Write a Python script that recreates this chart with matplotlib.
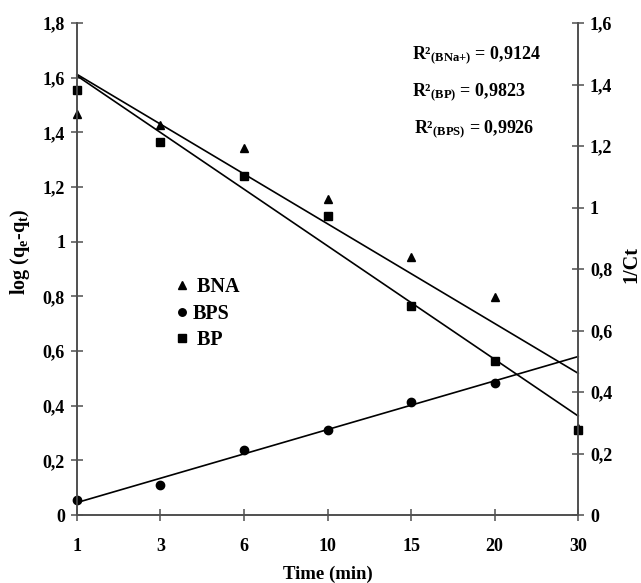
import numpy as np
import matplotlib
matplotlib.use("Agg")
from matplotlib import pyplot as plt

# time points (min), drawn as equally spaced categories
times = ["1", "3", "6", "10", "15", "20", "30"]

# log(qe-qt)
bna = [1.468, 1.428, 1.344, 1.156, 0.945, 0.797, 0.32]
bp = [1.555, 1.364, 1.240, 1.094, 0.765, 0.563, 0.311]
bps = [0.055, 0.110, 0.238, 0.311, 0.413, 0.482]

left_ticks = [0, 0.2, 0.4, 0.6, 0.8, 1.0, 1.2, 1.4, 1.6, 1.8]
right_ticks = [0, 0.2, 0.4, 0.6, 0.8, 1.0, 1.2, 1.4, 1.6]

r2_labels = ["R²$_{\\mathbf{(BNa{+})}}$ = 0,9124",
             "R²$_{\\mathbf{(BP)}}$ = 0,9823",
             "R²$_{\\mathbf{(BPS)}}$ = 0,9926"]

plt.rcParams['font.family'] = ['Liberation Serif', 'DejaVu Serif']
plt.rcParams['font.weight'] = 'bold'
plt.rcParams['mathtext.fontset'] = 'custom'
plt.rcParams['mathtext.rm'] = 'Liberation Serif:bold'
plt.rcParams['mathtext.bf'] = 'Liberation Serif:bold'
plt.rcParams['mathtext.it'] = 'Liberation Serif:bold'


def fmt(v):
    if abs(v - round(v)) < 1e-9:
        return str(int(round(v)))
    return f"{v:.1f}".replace(".", ",")


def fit_line(y):
    x = np.arange(len(y))
    k, b = np.polyfit(x, y, 1)
    xs = np.array([0, len(times) - 1])
    return xs, k * xs + b


fig = plt.figure(figsize=(6.41, 5.83), dpi=100)
ax = fig.add_axes([0.120, 0.1166, 0.782, 0.8439])
ax2 = ax.twinx()

xi = np.arange(len(times))
# leading spaces copy the uneven text alignment of the original legend
ax.plot(xi[:len(bna)], bna, linestyle='none', marker='^', color='black', markersize=6,
        clip_on=False, label=' BNA', zorder=3)
ax.plot(xi[:len(bps)], bps, linestyle='none', marker='o', color='black', markersize=6,
        clip_on=False, label='BPS', zorder=3)
ax.plot(xi[:len(bp)], bp, linestyle='none', marker='s', color='black', markersize=6,
        clip_on=False, label=' BP', zorder=4)

for y in (bna, bp, bps):
    xs, ys = fit_line(y)
    ax.plot(xs, ys, color='black', linewidth=1.2, clip_on=False, zorder=2)

ax.set_xlim(0, len(times) - 1)
ax.set_ylim(0, 1.8)
ax2.set_ylim(0, 1.6)
ax.set_xticks(xi)
ax.set_xticklabels(times)
ax.set_yticks(left_ticks)
ax.set_yticklabels([fmt(v) for v in left_ticks])
ax2.set_yticks(right_ticks)
ax2.set_yticklabels([fmt(v) for v in right_ticks])

for a in (ax, ax2):
    a.spines['top'].set_visible(False)
    for s in ('left', 'right', 'bottom'):
        a.spines[s].set_color('#505050')
        a.spines[s].set_linewidth(1.2)
    a.tick_params(direction='inout', length=9, width=1.1, color='#505050',
                  labelsize=13, pad=4)
ax.tick_params(axis='x', pad=12)

ax.set_xlabel('Time (min)', fontsize=13.5, fontweight='bold', labelpad=8)
ax.set_ylabel('log (q$_\\mathbf{e}$-q$_\\mathbf{t}$)', fontsize=14.5, fontweight='bold')
ax.yaxis.set_label_coords(-0.09, 0.535)
ax2.set_ylabel('1/Ct', fontsize=14.5, fontweight='bold')
ax2.yaxis.set_label_coords(1.086, 0.51)

ax.legend(loc='upper left', bbox_to_anchor=(0.18, 0.50), frameon=False, handlelength=0.7,
          handletextpad=0.15, labelspacing=0.33, fontsize=14.5, borderaxespad=0,
          markerscale=0.9)

for i, lab in enumerate(r2_labels):
    ax.text(0.668 + (0.005 if i == 2 else 0), 0.935 - i * 0.075, lab, transform=ax.transAxes,
            fontsize=13, fontweight='bold', va='center', ha='left')

fig.savefig('out.png', dpi=100)
